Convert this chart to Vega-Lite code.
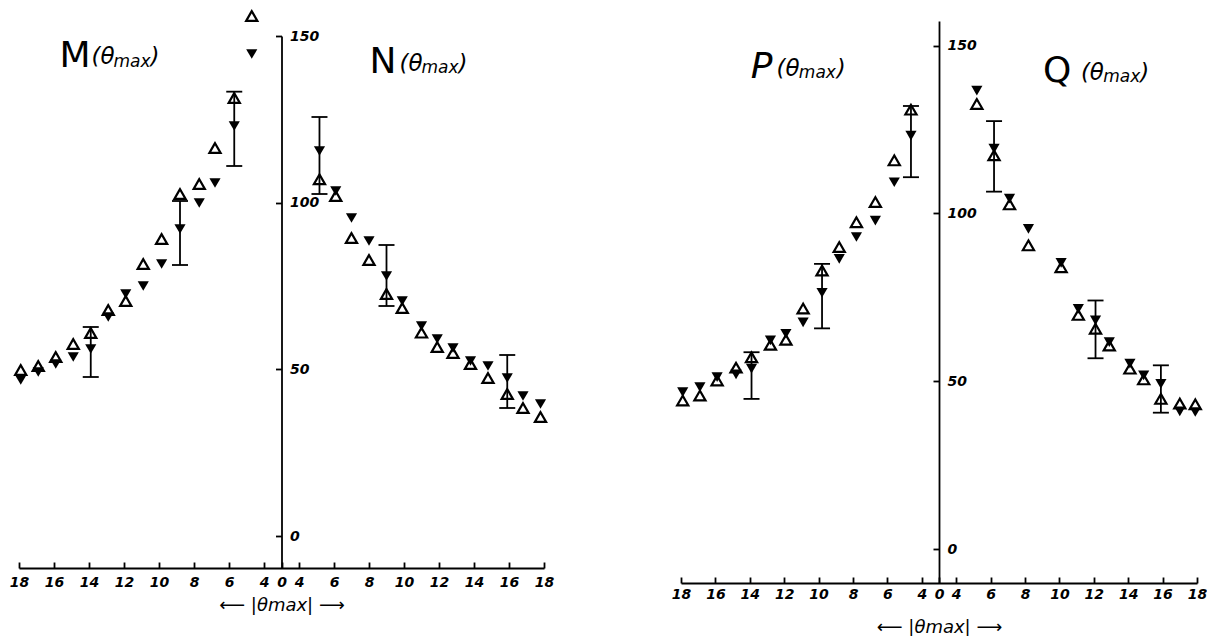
{
"$schema":"https://vega.github.io/schema/vega-lite/v6.json",
"background":"white",
"padding":{"left":9,"top":6,"right":0,"bottom":0},
"bounds":"flush",
"center":true,
"spacing":137,
"config":{
  "view":{"stroke":null},
  "axis":{"grid":false,"domainColor":"#000","tickColor":"#000","labelColor":"#000","titleColor":"#000","labelFont":"DejaVu Sans","labelFontStyle":"italic","labelFontWeight":"bold","labelFontSize":14,"titleFont":"DejaVu Sans","titleFontStyle":"italic","titleFontWeight":"normal","titleFontSize":18,"domainWidth":1.8,"tickWidth":1.8}
},
"datasets":{
 "fig1":[
  {"t":-4.7,"up":156,"dn":144.6},{"t":-5.7,"up":131.4,"dn":123},{"t":-6.8,"up":116.4,"dn":105.9},{"t":-7.7,"up":105.6,"dn":99.9},{"t":-8.8,"up":102.6,"dn":92.1},{"t":-9.85,"up":89.1,"dn":81.6},{"t":-10.9,"up":81.6,"dn":75},{"t":-11.9,"up":70.5,"dn":72.6},{"t":-12.9,"up":67.8,"dn":65.7},{"t":-13.9,"up":60.9,"dn":56.1},{"t":-14.9,"up":57.6,"dn":53.7},{"t":-15.9,"up":53.7,"dn":51.6},{"t":-16.9,"up":51,"dn":49.2},{"t":-17.9,"up":49.8,"dn":46.8},
  {"t":5.17,"up":107,"dn":115.5},{"t":6.1,"up":102,"dn":103.5},{"t":7.0,"up":89.4,"dn":95.4},{"t":8.0,"up":82.8,"dn":88.5},{"t":9.0,"up":72.6,"dn":78},{"t":9.9,"up":68.4,"dn":70.5},{"t":11.0,"up":61,"dn":63},{"t":11.9,"up":56.7,"dn":59.1},{"t":12.8,"up":54.9,"dn":56.4},{"t":13.8,"up":51.6,"dn":52.5},{"t":14.8,"up":47.4,"dn":51},{"t":15.9,"up":42.6,"dn":47.4},{"t":16.8,"up":38.4,"dn":42},{"t":17.8,"up":35.7,"dn":39.6}
 ],
 "err1":[
  {"t":-5.7,"lo":111,"hi":133.3},{"t":-8.8,"lo":81.3,"hi":100.5},{"t":-13.9,"lo":47.7,"hi":62.7},
  {"t":5.17,"lo":102.6,"hi":125.7},{"t":9.0,"lo":69,"hi":87.3},{"t":15.9,"lo":38.4,"hi":54.3}
 ],
 "lab1":[
  {"s":"M","t":-15.69,"y":140.7,"part":"big"},{"s":"(θ","t":-13.86,"y":141.6,"part":"par"},{"s":"max","t":-12.6,"y":140.7,"part":"sub"},{"s":")","t":-10.49,"y":141.6,"part":"par"},
  {"s":"N","t":8.03,"y":138.9,"part":"big"},{"s":"(θ","t":9.74,"y":139.5,"part":"par"},{"s":"max","t":11.0,"y":138.9,"part":"sub"},{"s":")","t":13.11,"y":139.5,"part":"par"}
 ],
 "fig2":[
  {"t":-4.63,"up":130.9,"dn":123.2},{"t":-5.6,"up":115.8,"dn":109.3},{"t":-6.7,"up":103.4,"dn":97.9},{"t":-7.8,"up":97.4,"dn":93},{"t":-8.8,"up":90,"dn":86.5},{"t":-9.8,"up":83,"dn":76.4},{"t":-10.9,"up":71.7,"dn":67.6},{"t":-11.9,"up":62.4,"dn":64.2},{"t":-12.8,"up":60.9,"dn":62.2},{"t":-13.9,"up":57.2,"dn":53.8},{"t":-14.8,"up":54.1,"dn":52.1},{"t":-15.9,"up":50.3,"dn":51.3},{"t":-16.9,"up":45.8,"dn":48.3},{"t":-17.9,"up":44.3,"dn":46.8},
  {"t":5.2,"up":132.6,"dn":136.6},{"t":6.2,"up":117.3,"dn":119.3},{"t":7.1,"up":102.7,"dn":104.4},{"t":8.2,"up":90.5,"dn":95.4},{"t":10.1,"up":84,"dn":85.3},{"t":11.1,"up":69.8,"dn":71.6},{"t":12.1,"up":65.7,"dn":68.2},{"t":12.9,"up":60.7,"dn":61.7},{"t":14.1,"up":53.8,"dn":55.3},{"t":14.9,"up":50.6,"dn":51.8},{"t":15.9,"up":44.8,"dn":49.3},{"t":17.0,"up":43.4,"dn":41.1},{"t":17.9,"up":43.2,"dn":40.9}
 ],
 "err2":[
  {"t":-4.63,"lo":110.8,"hi":132},{"t":-9.8,"lo":65.8,"hi":85},{"t":-13.9,"lo":44.8,"hi":58.7},
  {"t":6.2,"lo":106.5,"hi":127.5},{"t":12.1,"lo":56.9,"hi":74.1},{"t":15.9,"lo":40.7,"hi":54.8}
 ],
 "lab2":[
  {"s":"P","t":-13.95,"y":140.2,"part":"bigi"},{"s":"(θ","t":-12.45,"y":140.8,"part":"par"},{"s":"max","t":-11.15,"y":140.2,"part":"sub"},{"s":")","t":-8.95,"y":140.8,"part":"par"},
  {"s":"Q","t":9.05,"y":139,"part":"big"},{"s":"(θ","t":11.25,"y":139.6,"part":"par"},{"s":"max","t":12.55,"y":139,"part":"sub"},{"s":")","t":14.7,"y":139.6,"part":"par"}
 ]
},
"hconcat":[
 {
  "width":525,"height":532,
  "encoding":{"x":{"field":"t","type":"quantitative","title":"⟵  |θmax|  ⟶",
    "scale":{"domain":[-18,-4,4,18],"range":[0,245,280,525],"nice":false,"zero":false},
    "axis":{"values":[-18,-16,-14,-12,-10,-8,-6,-4,0,4,6,8,10,12,14,16,18],"labelExpr":"abs(datum.value)","tickSize":-6,"labelPadding":13,"titlePadding":7,"labelFlush":false,"labelOverlap":false}}},
  "layer":[
   {"data":{"name":"fig1"},"mark":{"type":"point","shape":"triangle-up","filled":false,"color":"#000","strokeWidth":2.2,"size":125,"opacity":1},
    "encoding":{"y":{"field":"up","type":"quantitative","title":null,"scale":{"domain":[-9.6,150],"nice":false,"zero":false},
      "axis":{"values":[0,50,100,150],"offset":-262.5,"tickSize":6,"labelAlign":"left","labelPadding":-14,"labelBaseline":"middle"}}}},
   {"data":{"name":"fig1"},"mark":{"type":"point","shape":"triangle-down","filled":true,"color":"#000","size":125,"opacity":1},
    "encoding":{"y":{"field":"dn","type":"quantitative","title":null}}},
   {"data":{"name":"err1"},"mark":{"type":"rule","color":"#000","strokeWidth":1.8},
    "encoding":{"y":{"field":"lo","type":"quantitative","title":null},"y2":{"field":"hi"}}},
   {"data":{"name":"err1"},"mark":{"type":"tick","orient":"horizontal","color":"#000","size":16,"thickness":1.8,"opacity":1},
    "encoding":{"y":{"field":"lo","type":"quantitative","title":null}}},
   {"data":{"name":"err1"},"mark":{"type":"tick","orient":"horizontal","color":"#000","size":16,"thickness":1.8,"opacity":1},
    "encoding":{"y":{"field":"hi","type":"quantitative","title":null}}},
   {"data":{"name":"lab1"},"transform":[{"filter":"datum.part == 'big'"}],
    "mark":{"type":"text","align":"left","baseline":"alphabetic","font":"DejaVu Sans","fontSize":36,"color":"#000"},
    "encoding":{"y":{"field":"y","type":"quantitative","title":null},"text":{"field":"s"}}},
   {"data":{"name":"lab1"},"transform":[{"filter":"datum.part == 'par'"}],
    "mark":{"type":"text","align":"left","baseline":"alphabetic","font":"DejaVu Sans","fontStyle":"italic","fontSize":23,"color":"#000"},
    "encoding":{"y":{"field":"y","type":"quantitative","title":null},"text":{"field":"s"}}},
   {"data":{"name":"lab1"},"transform":[{"filter":"datum.part == 'sub'"}],
    "mark":{"type":"text","align":"left","baseline":"alphabetic","font":"DejaVu Sans","fontStyle":"italic","fontSize":17,"color":"#000"},
    "encoding":{"y":{"field":"y","type":"quantitative","title":null},"text":{"field":"s"}}}
  ]
 },
 {
  "width":516,"height":562,
  "encoding":{"x":{"field":"t","type":"quantitative","title":"⟵  |θmax|  ⟶",
    "scale":{"domain":[-18,-4,4,18],"range":[0,240.8,275.2,516],"nice":false,"zero":false},
    "axis":{"values":[-18,-16,-14,-12,-10,-8,-6,-4,0,4,6,8,10,12,14,16,18],"labelExpr":"abs(datum.value)","tickSize":-6,"labelPadding":10,"titlePadding":17,"labelFlush":false,"labelOverlap":false}}},
  "layer":[
   {"data":{"name":"fig2"},"mark":{"type":"point","shape":"triangle-up","filled":false,"color":"#000","strokeWidth":2.2,"size":125,"opacity":1},
    "encoding":{"y":{"field":"up","type":"quantitative","title":null,"scale":{"domain":[-10,157.3],"nice":false,"zero":false},
      "axis":{"values":[0,50,100,150],"offset":-258,"tickSize":6,"labelAlign":"left","labelPadding":-14,"labelBaseline":"middle"}}}},
   {"data":{"name":"fig2"},"mark":{"type":"point","shape":"triangle-down","filled":true,"color":"#000","size":125,"opacity":1},
    "encoding":{"y":{"field":"dn","type":"quantitative","title":null}}},
   {"data":{"name":"err2"},"mark":{"type":"rule","color":"#000","strokeWidth":1.8},
    "encoding":{"y":{"field":"lo","type":"quantitative","title":null},"y2":{"field":"hi"}}},
   {"data":{"name":"err2"},"mark":{"type":"tick","orient":"horizontal","color":"#000","size":16,"thickness":1.8,"opacity":1},
    "encoding":{"y":{"field":"lo","type":"quantitative","title":null}}},
   {"data":{"name":"err2"},"mark":{"type":"tick","orient":"horizontal","color":"#000","size":16,"thickness":1.8,"opacity":1},
    "encoding":{"y":{"field":"hi","type":"quantitative","title":null}}},
   {"data":{"name":"lab2"},"transform":[{"filter":"datum.part == 'big'"}],
    "mark":{"type":"text","align":"left","baseline":"alphabetic","font":"DejaVu Sans","fontSize":36,"color":"#000"},
    "encoding":{"y":{"field":"y","type":"quantitative","title":null},"text":{"field":"s"}}},
   {"data":{"name":"lab2"},"transform":[{"filter":"datum.part == 'bigi'"}],
    "mark":{"type":"text","align":"left","baseline":"alphabetic","font":"DejaVu Sans","fontStyle":"italic","fontSize":36,"color":"#000"},
    "encoding":{"y":{"field":"y","type":"quantitative","title":null},"text":{"field":"s"}}},
   {"data":{"name":"lab2"},"transform":[{"filter":"datum.part == 'par'"}],
    "mark":{"type":"text","align":"left","baseline":"alphabetic","font":"DejaVu Sans","fontStyle":"italic","fontSize":23,"color":"#000"},
    "encoding":{"y":{"field":"y","type":"quantitative","title":null},"text":{"field":"s"}}},
   {"data":{"name":"lab2"},"transform":[{"filter":"datum.part == 'sub'"}],
    "mark":{"type":"text","align":"left","baseline":"alphabetic","font":"DejaVu Sans","fontStyle":"italic","fontSize":17,"color":"#000"},
    "encoding":{"y":{"field":"y","type":"quantitative","title":null},"text":{"field":"s"}}},
   {"data":{"values":[{}]},"mark":{"type":"point","shape":"triangle-up","filled":true,"color":"#000","size":45,"opacity":1},
    "encoding":{"x":{"datum":0,"type":"quantitative","title":"⟵  |θmax|  ⟶"},"y":{"datum":157.3,"type":"quantitative","title":null}}}
  ]
 }
]
}
